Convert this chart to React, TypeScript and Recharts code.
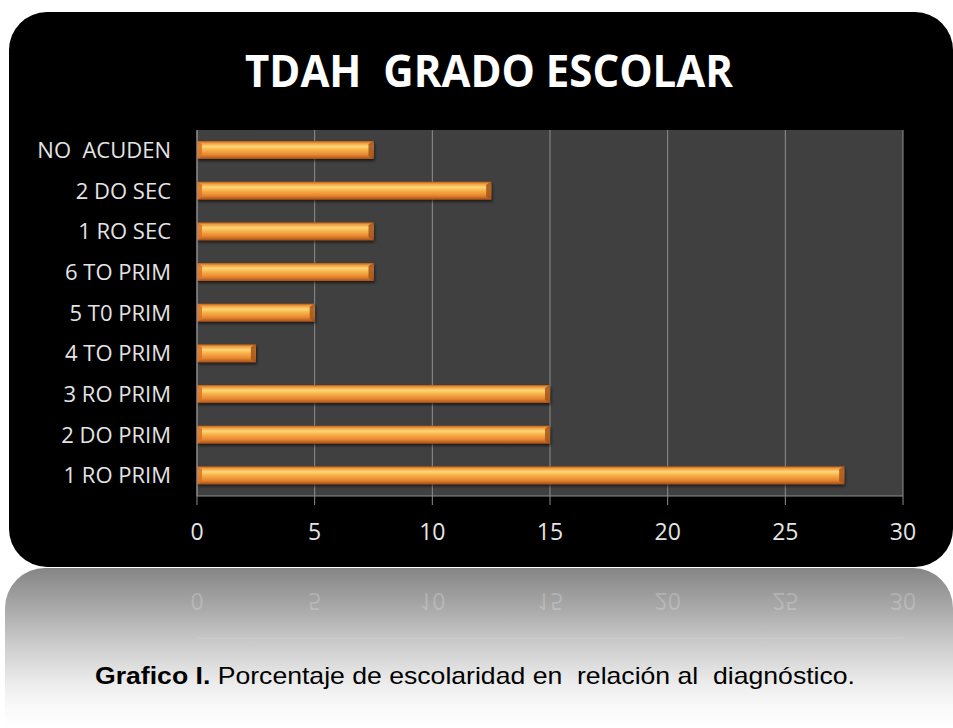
import { BarChart, Bar, XAxis, YAxis, CartesianGrid } from 'recharts'

// categories bottom-to-top, as in the source sheet
const categories = ['1 RO PRIM', '2 DO PRIM', '3 RO PRIM', '4 TO PRIM', '5 T0 PRIM', '6 TO PRIM', '1 RO SEC', '2 DO SEC', 'NO  ACUDEN']
const values = [27.5, 15, 15, 2.5, 5, 7.5, 7.5, 12.5, 7.5]
const xTicks = [0, 5, 10, 15, 20, 25, 30]

const title = 'TDAH  GRADO ESCOLAR'
const captionBold = 'Grafico I.'
const captionText = ' Porcentaje de escolaridad en  relación al  diagnóstico.'

const data = categories.map((name, i) => ({ name, value: values[i] }))

const W = 953
const H = 728
const PLOT_LEFT = 197
const PLOT_RIGHT = 903
const PLOT_TOP = 130
const PLOT_BOTTOM = 496
const X_AXIS_H = 40

const YTick = ({ x, y, payload }: any) => (
  <text x={x} y={y} dy="0.35em" textAnchor="end" fill="#e4e4e4" fontSize={22}
    fontFamily="'Open Sans', sans-serif" style={{ whiteSpace: 'pre' }}>
    {payload.value}
  </text>
)

const BevelBar = (props: any) => {
  const { x, y, width, height } = props
  if (!width || width <= 0) return null
  const b = Math.min(5, width / 2)
  return (
    <g filter="url(#barShadow)">
      <rect x={x} y={y} width={width} height={height} fill="url(#barGrad)" />
      <polygon
        points={`${x},${y} ${x + b},${y + 3} ${x + b},${y + height - 3} ${x},${y + height}`}
        fill="#d9732a" opacity={0.85} />
      <polygon
        points={`${x + width - b},${y + 3} ${x + width},${y} ${x + width},${y + height} ${x + width - b},${y + height - 3}`}
        fill="#a5541a" opacity={0.85} />
    </g>
  )
}

const xPos = (v: number) => PLOT_LEFT + (v / 30) * (PLOT_RIGHT - PLOT_LEFT)
const MIRROR = 567

export default function App() {
  return (
    <div style={{ position: 'absolute', left: 0, top: 0, width: W, height: H, background: '#fff', overflow: 'hidden' }}>
      {/* black panel */}
      <div style={{ position: 'absolute', left: 9, top: 12, width: 944, height: 555, background: '#000', borderRadius: 38 }} />
      {/* reflection */}
      <div style={{
        position: 'absolute', left: 5, top: 568, width: 948, height: 160, borderRadius: '40px 40px 0 0',
        background: 'linear-gradient(to bottom, #858585 0%, #a9a9a9 25%, #cfcfcf 50%, #ececec 72%, #fafafa 88%, #ffffff 100%)'
      }} />

      <div style={{ position: 'absolute', left: 0, top: 0 }}>
        <BarChart width={W} height={H} data={data} layout="vertical"
          margin={{ top: PLOT_TOP, right: W - PLOT_RIGHT, left: 0, bottom: H - PLOT_BOTTOM - X_AXIS_H }}>
          <defs>
            <linearGradient id="barGrad" x1="0" y1="0" x2="0" y2="1">
              <stop offset="0%" stopColor="#b35a1b" />
              <stop offset="12%" stopColor="#ef9d3e" />
              <stop offset="30%" stopColor="#fdd676" />
              <stop offset="48%" stopColor="#f8b44c" />
              <stop offset="78%" stopColor="#e6842f" />
              <stop offset="100%" stopColor="#a24f17" />
            </linearGradient>
            <filter id="barShadow" x="-5%" y="-30%" width="110%" height="170%">
              <feDropShadow dx="1" dy="2" stdDeviation="1.5" floodColor="#000" floodOpacity="0.6" />
            </filter>
          </defs>
          <CartesianGrid horizontal={false} fill="#404040" stroke="#8e8e8e" strokeWidth={1} />
          <XAxis type="number" domain={[0, 30]} ticks={xTicks} height={X_AXIS_H}
            axisLine={{ stroke: '#8e8e8e' }} tickLine={{ stroke: '#8e8e8e' }} tickSize={9} tickMargin={19}
            tick={{ fill: '#e4e4e4', fontSize: 23, fontFamily: "'Open Sans', sans-serif" }} />
          <YAxis type="category" dataKey="name" reversed width={PLOT_LEFT}
            axisLine={{ stroke: '#8e8e8e' }} tickLine={false} tickSize={9} tickMargin={17}
            tick={<YTick />} interval={0} />
          <Bar dataKey="value" barSize={18} shape={<BevelBar />} isAnimationActive={false} />
        </BarChart>
      </div>

      <svg width={W} height={H} style={{ position: 'absolute', left: 0, top: 0, pointerEvents: 'none' }}>
        <text x={489} y={87} textAnchor="middle" fill="#fff" fontSize={44} fontWeight="bold"
          fontFamily="'Open Sans', sans-serif" textLength={488} lengthAdjust="spacingAndGlyphs"
          style={{ whiteSpace: 'pre' }}>
          {title}
        </text>

        {/* mirrored tick labels and axis in the reflection */}
        {xTicks.map((t) => (
          <text key={t} x={0} y={0} textAnchor="middle" fill="#ffffff" fillOpacity={0.22}
            fontSize={23} fontFamily="'Open Sans', sans-serif"
            transform={`translate(${xPos(t)}, ${2 * MIRROR - 525}) scale(1,-1)`} dy="0.71em">
            {t}
          </text>
        ))}
        <line x1={PLOT_LEFT} x2={PLOT_RIGHT} y1={2 * MIRROR - PLOT_BOTTOM} y2={2 * MIRROR - PLOT_BOTTOM}
          stroke="#ffffff" strokeOpacity={0.14} />

        <text x={475} y={684} textAnchor="middle" fill="#000" fontSize={24}
          fontFamily="'Liberation Sans', Arial, sans-serif" textLength={760} lengthAdjust="spacingAndGlyphs"
          style={{ whiteSpace: 'pre' }}>
          <tspan fontWeight="bold">{captionBold}</tspan>
          <tspan>{captionText}</tspan>
        </text>
      </svg>
    </div>
  )
}
